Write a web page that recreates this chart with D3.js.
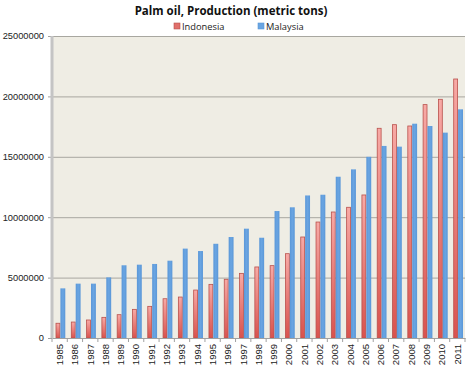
<!DOCTYPE html>
<html>
<head>
<meta charset="utf-8">
<script src="https://cdn.jsdelivr.net/npm/d3@7"></script>
<style>
  body { margin: 0; background: #fff; }
  svg { display: block; font-family: "Open Sans", "DejaVu Sans", sans-serif; }
</style>
</head>
<body>
<svg width="467" height="370"></svg>
<script>
// data
var years = ["1985","1986","1987","1988","1989","1990","1991","1992","1993","1994","1995","1996","1997","1998","1999","2000","2001","2002","2003","2004","2005","2006","2007","2008","2009","2010","2011"];
var indonesia = [1220000,1320000,1490000,1710000,1930000,2370000,2620000,3250000,3390000,3970000,4440000,4860000,5350000,5880000,5990000,6980000,8360000,9600000,10430000,10820000,11840000,17360000,17660000,17550000,19320000,19760000,21440000];
var malaysia = [4110000,4500000,4500000,5020000,6020000,6070000,6130000,6400000,7400000,7200000,7800000,8360000,9050000,8300000,10510000,10820000,11800000,11860000,13350000,13960000,15000000,15900000,15840000,17740000,17550000,17000000,18930000];
var series = ["Indonesia", "Malaysia"];
var yTicks = [0, 5000000, 10000000, 15000000, 20000000, 25000000];

var svg = d3.select("svg");
var mLeft = 52, mRight = 465, mTop = 36, mBottom = 338;

/* gradients for the bars */
var defs = svg.append("defs");
var gr = defs.append("linearGradient").attr("id","redg").attr("x1",0).attr("y1",0).attr("x2",0).attr("y2",1);
gr.append("stop").attr("offset","0%").attr("stop-color","#f8aaa6");
gr.append("stop").attr("offset","100%").attr("stop-color","#d9524d");
var gb = defs.append("linearGradient").attr("id","blueg").attr("x1",0).attr("y1",0).attr("x2",1).attr("y2",0);
gb.append("stop").attr("offset","0%").attr("stop-color","#5a97d8");
gb.append("stop").attr("offset","50%").attr("stop-color","#6aa5e2");
gb.append("stop").attr("offset","100%").attr("stop-color","#5a97d8");

var x = d3.scaleBand().domain(years).range([mLeft, mRight]);
var xs = d3.scaleBand().domain(series).range([3.5, x.bandwidth() - 2]);
var y = d3.scaleLinear().domain([0, 25000000]).range([mBottom, mTop]);

// plot background
svg.append("rect").attr("x", mLeft).attr("y", mTop).attr("width", mRight - mLeft).attr("height", mBottom - mTop).attr("fill", "#efede4");

// gridlines
svg.append("g").selectAll("line").data(yTicks.slice(1)).enter().append("line")
  .attr("x1", mLeft).attr("x2", mRight)
  .attr("y1", function(d){ return y(d) + 0.5; }).attr("y2", function(d){ return y(d) + 0.5; })
  .attr("stroke", "#a8a7a0").attr("stroke-width", 1);

// y axis
var yAxis = svg.append("g").attr("transform", "translate(" + mLeft + ",0)")
  .call(d3.axisLeft(y).tickValues(yTicks).tickFormat(d3.format("d")).tickSize(4).tickPadding(4));
yAxis.select(".domain").remove();
yAxis.selectAll("line").attr("stroke", "#a0a0a0");
yAxis.selectAll("text").attr("font-size", "9.3px").attr("fill", "#222");
svg.append("line").attr("x1", mLeft).attr("x2", mLeft).attr("y1", mTop).attr("y2", mBottom)
  .attr("stroke", "#c4c4c4").attr("stroke-width", 3);

// bars
var groups = svg.append("g").selectAll("g").data(years).enter().append("g")
  .attr("transform", function(d){ return "translate(" + x(d) + ",0)"; });
groups.append("rect")
  .attr("x", xs("Indonesia") + 0.5).attr("width", xs.bandwidth() - 1)
  .attr("y", function(d,i){ return y(indonesia[i]); })
  .attr("height", function(d,i){ return mBottom - y(indonesia[i]); })
  .attr("fill", "url(#redg)").attr("stroke", "#b9514c").attr("stroke-width", 0.8);
groups.append("rect")
  .attr("x", xs("Malaysia")).attr("width", xs.bandwidth())
  .attr("y", function(d,i){ return y(malaysia[i]); })
  .attr("height", function(d,i){ return mBottom - y(malaysia[i]); })
  .attr("fill", "url(#blueg)");

// x axis with ticks between categories
var xAxis = svg.append("g").attr("transform", "translate(0," + mBottom + ")")
  .call(d3.axisBottom(x).tickSize(0).tickPadding(0));
xAxis.select(".domain").attr("stroke", "#a0a0a0");
xAxis.selectAll(".tick text")
  .attr("font-size", "9.5px").attr("fill", "#222")
  .attr("text-anchor", "end").attr("y", 0).attr("dy", "0.35em")
  .attr("transform", "translate(0,6) rotate(-90)");
svg.append("g").selectAll("line").data(years.concat(["end"])).enter().append("line")
  .attr("x1", function(d,i){ return mLeft + i * x.step(); })
  .attr("x2", function(d,i){ return mLeft + i * x.step(); })
  .attr("y1", mBottom).attr("y2", mBottom + 4)
  .attr("stroke", "#a0a0a0");

// title
svg.append("text").attr("x", 231).attr("y", 15).attr("text-anchor", "middle")
  .attr("font-size", "11.5px").attr("font-weight", "bold").attr("fill", "#111")
  .text("Palm oil, Production (metric tons)");

// legend
var legX = [174, 258];
var leg = svg.append("g").selectAll("g").data(series).enter().append("g")
  .attr("transform", function(d,i){ return "translate(" + legX[i] + ",23)"; });
leg.append("rect").attr("width", 6).attr("height", 6)
  .attr("fill", function(d){ return d == "Indonesia" ? "#e0706c" : "#6aa5e2"; })
  .attr("stroke", function(d){ return d == "Indonesia" ? "#b9514c" : "#5a97d8"; }).attr("stroke-width", 0.6);
leg.append("text").attr("x", 8).attr("y", 6.8).attr("font-size", "9.3px").attr("fill", "#222")
  .text(function(d){ return d; });
</script>
</body>
</html>
